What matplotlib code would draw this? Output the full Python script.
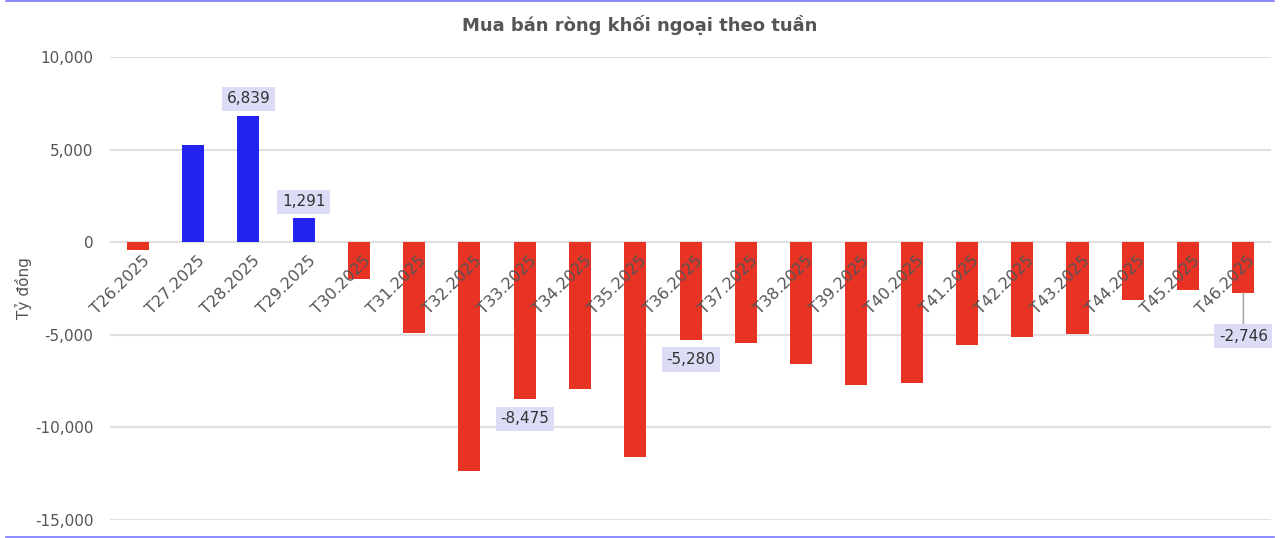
import matplotlib
matplotlib.use("Agg")
import matplotlib.pyplot as plt
from matplotlib.lines import Line2D

## DATA

weeks = ["T26.2025", "T27.2025", "T28.2025", "T29.2025", "T30.2025", "T31.2025",
         "T32.2025", "T33.2025", "T34.2025", "T35.2025", "T36.2025", "T37.2025",
         "T38.2025", "T39.2025", "T40.2025", "T41.2025", "T42.2025", "T43.2025",
         "T44.2025", "T45.2025", "T46.2025"]
net_value = [-400, 5250, 6839, 1291, -1960, -4890, -12340, -8475, -7915, -11585,
             -5280, -5430, -6550, -7735, -7625, -5575, -5145, -4930, -3110, -2555, -2746]
labelled = ["T28.2025", "T29.2025", "T33.2025", "T36.2025", "T46.2025"]

y_ticks = [-15000, -10000, -5000, 0, 5000, 10000]

TITLE = "Mua bán ròng khối ngoại theo tuần"
Y_LABEL = "Tỷ đồng"

BLUE = "#2323f0"
RED = "#e83224"
TEXT = "#555555"
BOX = "#dcdcf6"

plt.rcParams["font.family"] = ["DejaVu Sans"]

fig = plt.figure(figsize=(12.8, 5.38), dpi=100)
ax = fig.add_axes([0.086, 0.0335, 0.907, 0.8605])

x = list(range(len(weeks)))
colors = [BLUE if v > 0 else RED for v in net_value]
ax.bar(x, net_value, width=0.4, color=colors, zorder=3)

ax.set_xlim(-0.5, len(weeks) - 0.5)
ax.set_ylim(-15000, 10000)
ax.set_yticks(y_ticks)
ax.set_yticklabels([f"{t:,}" for t in y_ticks], fontsize=11, color=TEXT)
ax.set_xticks([])
ax.tick_params(axis="y", length=0, pad=12)
ax.grid(axis="y", color="#e0e0e0", linewidth=1.5, zorder=0)
for s in ax.spines.values():
	s.set_visible(False)

# week labels hang just under the zero line
for i, w in enumerate(weeks):
	ax.annotate(w, xy=(i, 0), xytext=(3, -8), textcoords="offset points",
				ha="right", va="top", rotation=45, rotation_mode="anchor",
				fontsize=11.5, color=TEXT, zorder=4)

box = dict(boxstyle="square,pad=0.3", facecolor=BOX, edgecolor="none")
for i, (w, v) in enumerate(zip(weeks, net_value)):
	if w not in labelled:
		continue
	if w == weeks[-1]:
		ax.annotate(f"{v:,}", xy=(i, v), xytext=(0, -31), textcoords="offset points",
					ha="center", va="center", fontsize=11, color="#333333", bbox=box,
					arrowprops=dict(arrowstyle="-", color="#aaaaaa", lw=1.2,
									shrinkA=0, shrinkB=0), zorder=5)
	else:
		off = 12 if v > 0 else -14
		ax.annotate(f"{v:,}", xy=(i, v), xytext=(0, off), textcoords="offset points",
					ha="center", va="center", fontsize=11, color="#333333", bbox=box, zorder=5)

ax.set_ylabel(Y_LABEL, fontsize=11, color=TEXT, labelpad=2)
fig.text(0.5, 0.953, TITLE, ha="center", va="center", fontsize=13,
		 fontweight="bold", color=TEXT)

# thin blue frame lines at top and bottom edge
for yy in (0.999, 0.001):
	fig.lines.append(Line2D([0.005, 0.995], [yy, yy], transform=fig.transFigure,
							color="#7777ff", linewidth=1.2))

fig.savefig("out.png", dpi=100)
